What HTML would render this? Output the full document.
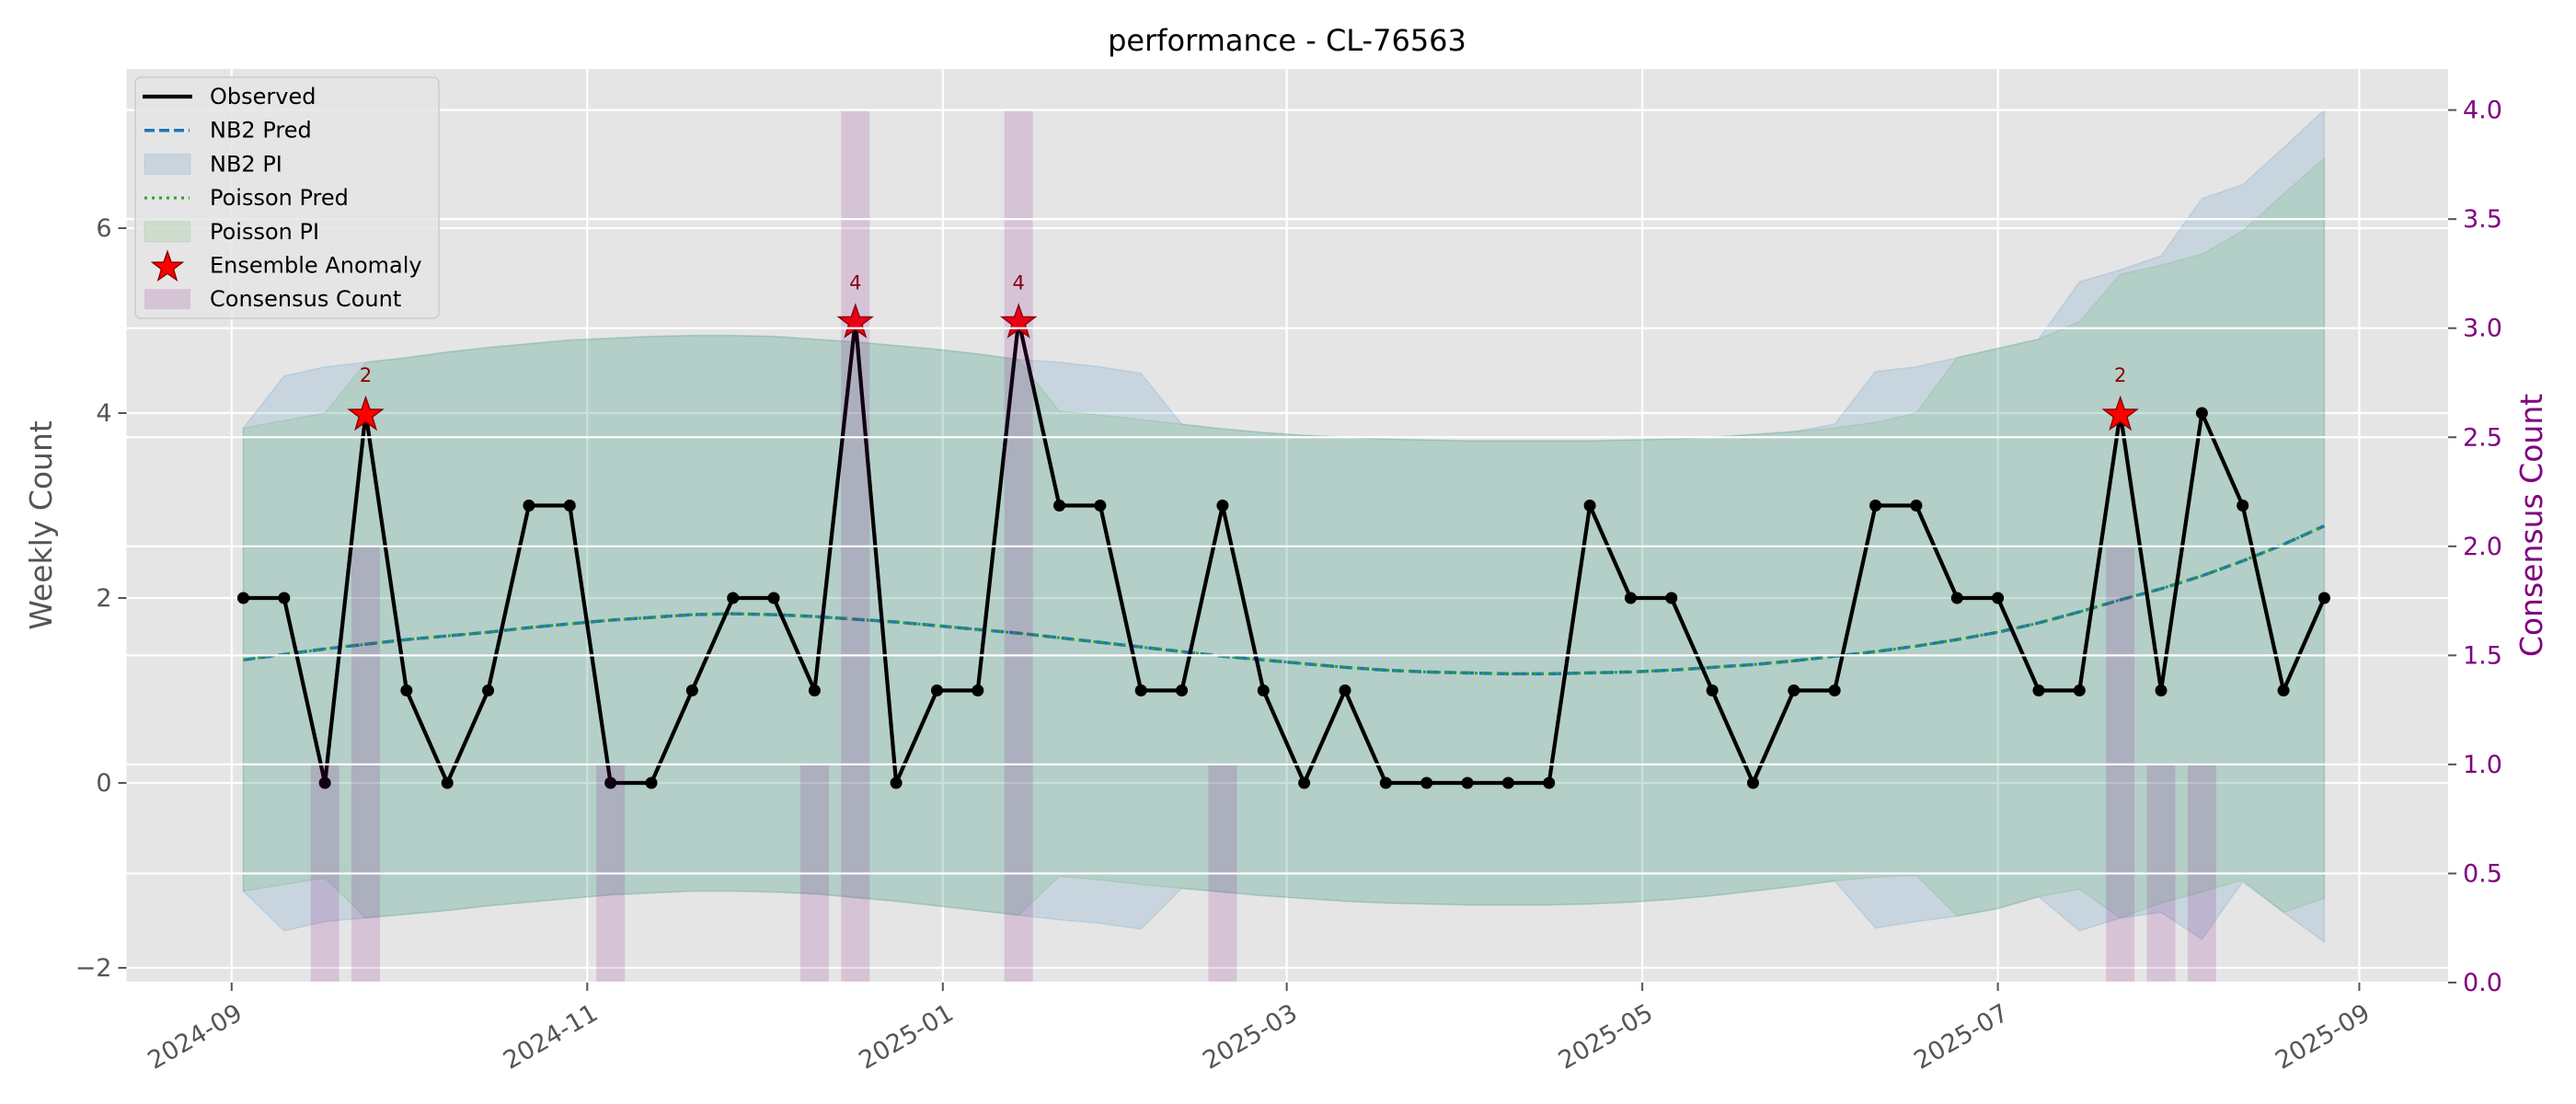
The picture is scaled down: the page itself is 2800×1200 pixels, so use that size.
<!DOCTYPE html>
<html><head><meta charset="utf-8"><style>
html,body{margin:0;padding:0;background:#fff;}
svg{display:block;font-family:"DejaVu Sans","Liberation Sans",sans-serif;}
</style></head><body>
<svg id="chart" width="2800" height="1200" viewBox="0 0 2800 1200" xmlns="http://www.w3.org/2000/svg">
<rect x="0" y="0" width="2800" height="1200" fill="#fff"/>
<g id="plot"></g>
</svg>
<script>
const startDate = "2024-09-03";
const observed = [2,2,0,4,1,0,1,3,3,0,0,1,2,2,1,5,0,1,1,5,3,3,1,1,3,1,0,1,0,0,0,0,0,3,2,2,1,0,1,1,3,3,2,2,1,1,4,1,4,3,1,2];
const nb2Pred = [1.33,1.39,1.45,1.5,1.55,1.59,1.63,1.68,1.72,1.76,1.79,1.82,1.83,1.82,1.8,1.77,1.74,1.7,1.66,1.62,1.57,1.52,1.47,1.42,1.37,1.33,1.29,1.25,1.22,1.2,1.19,1.18,1.18,1.19,1.2,1.22,1.25,1.28,1.32,1.37,1.42,1.48,1.55,1.63,1.73,1.85,1.98,2.1,2.24,2.4,2.58,2.78];
const poisPred = [1.33,1.39,1.45,1.5,1.55,1.59,1.63,1.68,1.72,1.76,1.79,1.82,1.83,1.82,1.8,1.77,1.74,1.7,1.66,1.62,1.57,1.52,1.47,1.42,1.37,1.33,1.29,1.25,1.22,1.2,1.19,1.18,1.18,1.19,1.2,1.22,1.25,1.28,1.32,1.37,1.42,1.48,1.55,1.63,1.73,1.85,1.98,2.1,2.24,2.4,2.58,2.78];
const nb2Upper = [3.84,4.4,4.5,4.55,4.6,4.66,4.71,4.75,4.79,4.81,4.83,4.84,4.84,4.83,4.8,4.77,4.73,4.69,4.64,4.58,4.55,4.5,4.43,3.88,3.83,3.79,3.76,3.74,3.72,3.71,3.7,3.7,3.7,3.7,3.71,3.72,3.74,3.77,3.8,3.88,4.45,4.5,4.6,4.7,4.8,5.42,5.55,5.7,6.32,6.47,6.87,7.28];
const nb2Lower = [-1.17,-1.6,-1.5,-1.46,-1.42,-1.38,-1.33,-1.29,-1.25,-1.21,-1.19,-1.17,-1.17,-1.18,-1.2,-1.24,-1.28,-1.33,-1.38,-1.43,-1.48,-1.52,-1.58,-1.14,-1.18,-1.22,-1.25,-1.28,-1.3,-1.31,-1.32,-1.32,-1.32,-1.31,-1.29,-1.26,-1.22,-1.17,-1.12,-1.06,-1.57,-1.5,-1.44,-1.36,-1.23,-1.6,-1.46,-1.4,-1.69,-1.07,-1.4,-1.72];
const poisUpper = [3.84,3.92,4.0,4.55,4.6,4.66,4.71,4.75,4.79,4.81,4.83,4.84,4.84,4.83,4.8,4.77,4.73,4.69,4.64,4.58,4.02,3.98,3.93,3.88,3.83,3.79,3.76,3.74,3.72,3.71,3.7,3.7,3.7,3.7,3.71,3.72,3.74,3.77,3.8,3.84,3.9,4.0,4.6,4.7,4.8,4.99,5.5,5.6,5.72,5.97,6.37,6.76];
const poisLower = [-1.17,-1.1,-1.03,-1.46,-1.42,-1.38,-1.33,-1.29,-1.25,-1.21,-1.19,-1.17,-1.17,-1.18,-1.2,-1.24,-1.28,-1.33,-1.38,-1.43,-1.01,-1.05,-1.1,-1.14,-1.18,-1.22,-1.25,-1.28,-1.3,-1.31,-1.32,-1.32,-1.32,-1.31,-1.29,-1.26,-1.22,-1.17,-1.12,-1.06,-1.02,-1.0,-1.44,-1.36,-1.23,-1.15,-1.46,-1.3,-1.18,-1.05,-1.4,-1.25];
const consensus = [0,0,1,2,0,0,0,0,0,1,0,0,0,0,1,4,0,0,0,4,0,0,0,0,1,0,0,0,0,0,0,0,0,0,0,0,0,0,0,0,0,0,0,0,0,0,2,1,1,0,0,0];
const anomalyIdx = [3,15,19,46];
const xTickDates = ["2024-09-01","2024-11-01","2025-01-01","2025-03-01","2025-05-01","2025-07-01","2025-09-01"];
const xTickLabels = ["2024-09","2024-11","2025-01","2025-03","2025-05","2025-07","2025-09"];
const yTicks = [-2,0,2,4,6];
const yTickLabels = ["\u22122","0","2","4","6"];
const y2Ticks = [0,0.5,1,1.5,2,2.5,3,3.5,4];
const y2TickLabels = ["0.0","0.5","1.0","1.5","2.0","2.5","3.0","3.5","4.0"];

const NS = "http://www.w3.org/2000/svg";
const L = 137.5, R = 2661, T = 75, B = 1068;
const DAY0 = Date.UTC(2024,8,1);
function dayOf(s){const p=s.split("-");return (Date.UTC(+p[0],+p[1]-1,+p[2])-DAY0)/86400000;}
function xDay(d){return 251.8 + d*6.336;}
const start = dayOf(startDate);
function xIdx(i){return xDay(start + 7*i);}
function yL(v){return 851 - v*100.5;}
function yR(v){return 1068 - v*237.1;}
const plot = document.getElementById("plot");
function el(tag, attrs, parent){const e=document.createElementNS(NS,tag);for(const k in attrs)e.setAttribute(k,attrs[k]);(parent||plot).appendChild(e);return e;}

let bg = el("rect",{x:L,y:T,width:R-L,height:B-T,fill:"#e5e5e5"});



yTicks.forEach(v=>{let g=el("line",{x1:L,x2:R,y1:yL(v),y2:yL(v),stroke:"#fff","stroke-width":2.2});

});
xTickDates.forEach(d=>{const x=xDay(dayOf(d));let g=el("line",{x1:x,x2:x,y1:T,y2:B,stroke:"#fff","stroke-width":2.2});

});

function band(up, lo, fill, name){
  let pts=[];up.forEach((v,i)=>pts.push(xIdx(i)+","+yL(v)));
  for(let i=lo.length-1;i>=0;i--)pts.push(xIdx(i)+","+yL(lo[i]));
  let p=el("polygon",{points:pts.join(" "),fill:fill,stroke:fill,"stroke-width":1.5});
  
  
}
band(nb2Upper, nb2Lower, "rgba(31,119,180,0.15)", "nb2-pi-band");
band(poisUpper, poisLower, "rgba(44,160,44,0.12)", "poisson-pi-band");

function line(vals, attrs, name){
  let d=vals.map((v,i)=>(i?"L":"M")+xIdx(i).toFixed(1)+","+yL(v).toFixed(1)).join("");
  let p=el("path",Object.assign({d:d,fill:"none"},attrs));
  
  
}
line(nb2Pred,{stroke:"#1f77b4","stroke-width":3.5,"stroke-dasharray":"13,6"},"nb2-pred-line");
line(poisPred,{stroke:"#2ca02c","stroke-width":3,"stroke-dasharray":"3,5"},"poisson-pred-line");
line(observed,{stroke:"#000","stroke-width":4.2,"stroke-linejoin":"round"},"observed-line");
observed.forEach((v,i)=>{let c=el("circle",{cx:xIdx(i),cy:yL(v),r:6.5,fill:"#000"});

});

function starPts(cx,cy,ro,ri){let p=[];for(let k=0;k<10;k++){const a=-Math.PI/2+k*Math.PI/5;const r=k%2?ri:ro;p.push((cx+r*Math.cos(a)).toFixed(1)+","+(cy+r*Math.sin(a)).toFixed(1));}return p.join(" ");}
anomalyIdx.forEach(i=>{
  const x=xIdx(i), y=yL(observed[i]);
  let s=el("polygon",{points:starPts(x,y+2,19,7.6),fill:"#ff0000",stroke:"#8b0000","stroke-width":1.5});
  
  
  let t=el("text",{x:x,y:y-34,"font-size":21,fill:"#8b0000","text-anchor":"middle"});
  t.textContent=String(consensus[i]);
  
  
});

consensus.forEach((v,i)=>{if(v<=0)return;const x=xIdx(i);
  let b=el("rect",{x:x-15.5,y:yR(v),width:31,height:yR(0)-yR(v),fill:"rgba(128,0,128,0.15)"});
  
  });
y2Ticks.forEach(v=>{let g=el("line",{x1:L,x2:R,y1:yR(v),y2:yR(v),stroke:"#fff","stroke-width":2.2});

});

yTicks.forEach((v,i)=>{let tk=el("line",{x1:L-9,x2:L,y1:yL(v),y2:yL(v),stroke:"#555","stroke-width":2});


let t=el("text",{x:L-16,y:yL(v)+9,"font-size":27,fill:"#555","text-anchor":"end"});t.textContent=yTickLabels[i];

});
y2Ticks.forEach((v,i)=>{let tk=el("line",{x1:R,x2:R+9,y1:yR(v),y2:yR(v),stroke:"#555","stroke-width":2});


let t=el("text",{x:R+16,y:yR(v)+9,"font-size":27,fill:"#800080","text-anchor":"start"});t.textContent=y2TickLabels[i];

});
xTickDates.forEach((d,i)=>{const x=xDay(dayOf(d));
let tk=el("line",{x1:x,x2:x,y1:B,y2:B+9,stroke:"#555","stroke-width":2});


let t=el("text",{x:x+4,y:B+22,"font-size":27,fill:"#555","text-anchor":"end",transform:"rotate(-30 "+(x+4)+" "+(B+22)+")",dy:"0.7em"});t.textContent=xTickLabels[i];

});

let title=el("text",{x:1399,y:55,"font-size":32,fill:"#000","text-anchor":"middle"});title.textContent="performance - CL-76563";


let yl=el("text",{x:0,y:0,"font-size":33,fill:"#555","text-anchor":"middle",transform:"translate(56 571) rotate(-90)"});yl.textContent="Weekly Count";


let yr=el("text",{x:0,y:0,"font-size":33,fill:"#800080","text-anchor":"middle",transform:"translate(2763 571) rotate(-90)"});yr.textContent="Consensus Count";



const lg = el("g",{});


let lb=el("rect",{x:147,y:84,width:330,height:262,rx:6,fill:"rgba(229,229,229,0.85)",stroke:"#cccccc","stroke-width":1.5},lg);


const legendLabels = ["Observed","NB2 Pred","NB2 PI","Poisson Pred","Poisson PI","Ensemble Anomaly","Consensus Count"];
legendLabels.forEach((name,k)=>{
  const cy = 105 + k*36.7;
  const g = el("g",{},lg);
  
  
  if(k===0) el("line",{x1:155,x2:209,y1:cy,y2:cy,stroke:"#000","stroke-width":4.2},g);
  if(k===1) el("line",{x1:157,x2:206,y1:cy,y2:cy,stroke:"#1f77b4","stroke-width":3.5,"stroke-dasharray":"11,5"},g);
  if(k===2) el("rect",{x:157,y:cy-11,width:50,height:22,fill:"rgba(31,119,180,0.15)",stroke:"rgba(31,119,180,0.15)"},g);
  if(k===3) el("line",{x1:157,x2:206,y1:cy,y2:cy,stroke:"#2ca02c","stroke-width":3,"stroke-dasharray":"3,5"},g);
  if(k===4) el("rect",{x:157,y:cy-11,width:50,height:22,fill:"rgba(44,160,44,0.12)",stroke:"rgba(44,160,44,0.12)"},g);
  if(k===5) el("polygon",{points:starPts(182,cy+2,17,6.8),fill:"#ff0000",stroke:"#8b0000","stroke-width":1.5},g);
  if(k===6) el("rect",{x:157,y:cy-11,width:50,height:22,fill:"rgba(128,0,128,0.15)"},g);
  const t = el("text",{x:228,y:cy+8,"font-size":24,fill:"#000"},g);
  t.textContent = name;
});
</script>
</body></html>
